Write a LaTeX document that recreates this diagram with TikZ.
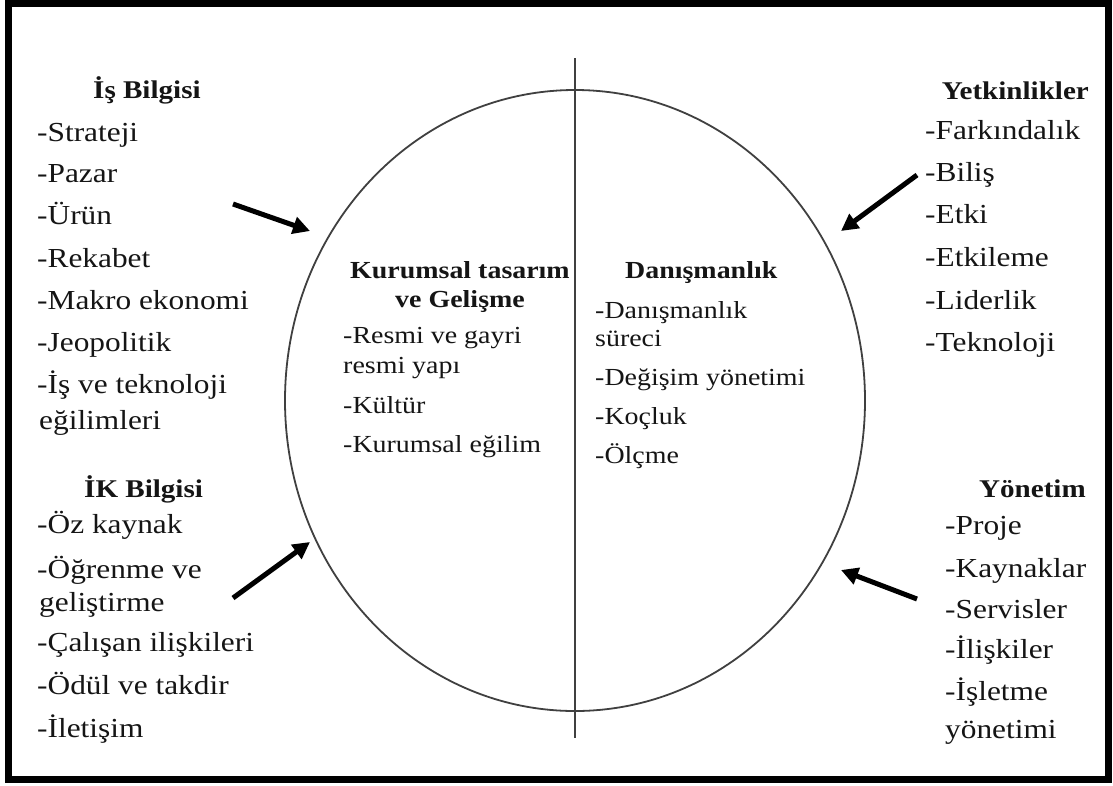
\documentclass[tikz,border=0pt]{standalone}
\usepackage{fontspec}
\setmainfont{Liberation Serif}[FakeStretch=1.14]
\usetikzlibrary{arrows.meta,shapes.geometric}
\definecolor{ink}{HTML}{151515}
\begin{document}
\begin{tikzpicture}[x=1pt,y=-1pt,
  itm/.style={anchor=base west, inner sep=0pt, text=ink, font=\fontsize{27.5}{30}\selectfont},
  hd/.style={anchor=base west, inner sep=0pt, text=ink, font=\fontsize{25.5}{30}\selectfont\bfseries},
  citm/.style={anchor=base west, inner sep=0pt, text=ink, font=\fontsize{24.5}{28}\selectfont},
  chd/.style={anchor=base west, inner sep=0pt, text=ink, font=\fontsize{24.5}{28}\selectfont\bfseries},
  arr/.style={line width=5pt, draw=black, -{Triangle[length=17pt,width=17pt]}},
  frame/.style={line width=7pt, draw=black},
  thin/.style={line width=1.8pt, draw=black!75}]
\useasboundingbox (0,0) rectangle (1113,785);
\fill[white] (0,0) rectangle (1113,785);
\draw[frame] (8.5,3.5) rectangle (1108.5,779.5);

% circle and divider
\node[draw=black!75, line width=1.8pt, ellipse, minimum width=580pt, minimum height=621pt, inner sep=0pt] (ell) at (575,400.5) {};
\coordinate (vtop) at (575,58);
\coordinate (vbot) at (575,738);
\draw[thin] (vtop) -- (vbot);

% Left top
\node[hd] (isb) at (93,98) {İş Bilgisi};
\node[itm] (l1) at (37,141) {-Strateji};
\node[itm] (l2) at (37,182) {-Pazar};
\node[itm] (l3) at (37,224) {-Ürün};
\node[itm] (l4) at (37,267) {-Rekabet};
\node[itm] (l5) at (37,309) {-Makro ekonomi};
\node[itm] (l6) at (37,351) {-Jeopolitik};
\node[itm] (l7) at (37,393) {-İş ve teknoloji};
\node[itm] (l8) at (39,429) {eğilimleri};

% Left bottom
\node[hd] (ikb) at (84,497) {İK Bilgisi};
\node[itm] (m1) at (37,533) {-Öz kaynak};
\node[itm] (m2) at (37,578) {-Öğrenme ve};
\node[itm] (m3) at (39,611) {geliştirme};
\node[itm] (m4) at (37,651) {-Çalışan ilişkileri};
\node[itm] (m5) at (37,694) {-Ödül ve takdir};
\node[itm] (m6) at (37,737) {-İletişim};

% Right top
\node[hd, anchor=base east] (yet) at (1089,99) {Yetkinlikler};
\node[itm] (r1) at (925,139) {-Farkındalık};
\node[itm] (r2) at (925,181) {-Biliş};
\node[itm] (r3) at (925,223) {-Etki};
\node[itm] (r4) at (925,266) {-Etkileme};
\node[itm] (r5) at (925,309) {-Liderlik};
\node[itm] (r6) at (925,351) {-Teknoloji};

% Right bottom
\node[hd] (yon) at (979,497) {Yönetim};
\node[itm] (s1) at (945,534) {-Proje};
\node[itm] (s2) at (945,577) {-Kaynaklar};
\node[itm] (s3) at (945,618) {-Servisler};
\node[itm] (s4) at (945,658) {-İlişkiler};
\node[itm] (s5) at (945,700) {-İşletme};
\node[itm] (s6) at (945,738) {yönetimi};

% Center left
\node[chd] (kt) at (350,278) {Kurumsal tasarım};
\node[chd, anchor=base] (vg) at (460,307) {ve Gelişme};
\node[citm] (c1) at (343,343) {-Resmi ve gayri};
\node[citm] (c2) at (343,373) {resmi yapı};
\node[citm] (c3) at (343,413) {-Kültür};
\node[citm] (c4) at (343,452) {-Kurumsal eğilim};

% Center right
\node[chd] (dan) at (625,278) {Danışmanlık};
\node[citm] (d1) at (595,318) {-Danışmanlık};
\node[citm] (d2) at (595,346) {süreci};
\node[citm] (d3) at (595,385) {-Değişim yönetimi};
\node[citm] (d4) at (595,424) {-Koçluk};
\node[citm] (d5) at (595,463) {-Ölçme};

% arrows
\coordinate (a1s) at (233,204);
\coordinate (a1e) at (310,231);
\coordinate (a2s) at (917,175);
\coordinate (a2e) at (841,231);
\coordinate (a3s) at (233,598);
\coordinate (a3e) at (310,542);
\coordinate (a4s) at (917,599);
\coordinate (a4e) at (841,570);
\draw[arr] (a1s) -- (a1e);
\draw[arr] (a2s) -- (a2e);
\draw[arr] (a3s) -- (a3e);
\draw[arr] (a4s) -- (a4e);
\end{tikzpicture}
\end{document}
